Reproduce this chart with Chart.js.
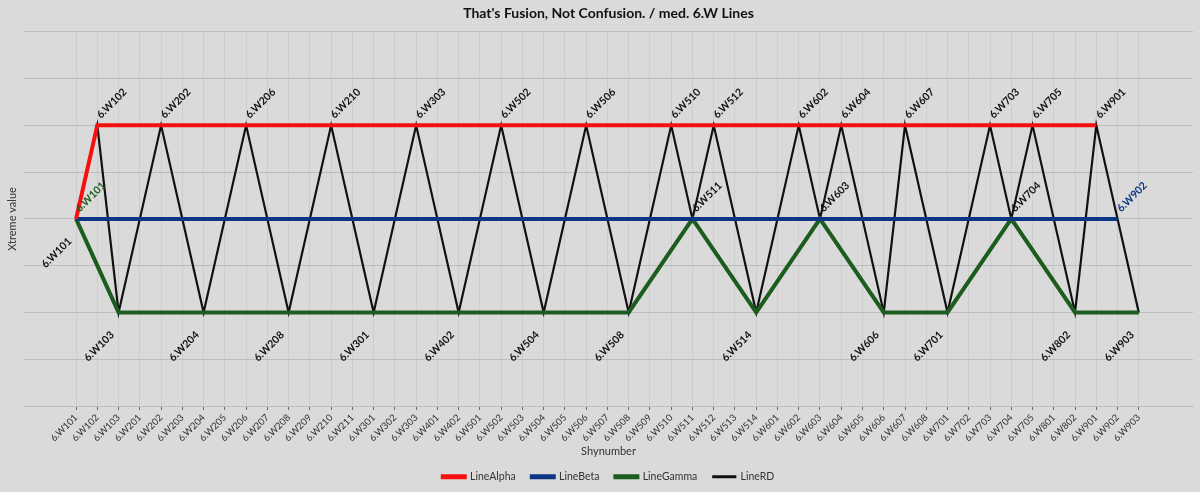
<!DOCTYPE html>
<html>
<head>
<meta charset="utf-8">
<script src="https://cdn.jsdelivr.net/npm/chart.js@4.4.1/dist/chart.umd.min.js"></script>
<style>
  html, body { margin: 0; padding: 0; background: #dadada; }
  #wrap { width: 1200px; height: 492px; }
</style>
</head>
<body>
<div id="wrap"><canvas id="chart"></canvas></div>
<script>
const shynumbers = [
  '6.W101', '6.W102', '6.W103',
  '6.W201', '6.W202', '6.W203', '6.W204', '6.W205', '6.W206', '6.W207', '6.W208', '6.W209', '6.W210', '6.W211',
  '6.W301', '6.W302', '6.W303',
  '6.W401', '6.W402',
  '6.W501', '6.W502', '6.W503', '6.W504', '6.W505', '6.W506', '6.W507', '6.W508', '6.W509', '6.W510', '6.W511', '6.W512', '6.W513', '6.W514',
  '6.W601', '6.W602', '6.W603', '6.W604', '6.W605', '6.W606', '6.W607', '6.W608',
  '6.W701', '6.W702', '6.W703', '6.W704', '6.W705',
  '6.W801', '6.W802',
  '6.W901', '6.W902', '6.W903'
];

const lineAlpha = [
  0, 1, 1,
  1, 1, 1, 1, 1, 1, 1, 1, 1, 1, 1,
  1, 1, 1,
  1, 1,
  1, 1, 1, 1, 1, 1, 1, 1, 1, 1, 1, 1, 1, 1,
  1, 1, 1, 1, 1, 1, 1, 1,
  1, 1, 1, 1, 1,
  1, 1,
  1, null, null
];

const lineBeta = [
  0, 0, 0,
  0, 0, 0, 0, 0, 0, 0, 0, 0, 0, 0,
  0, 0, 0,
  0, 0,
  0, 0, 0, 0, 0, 0, 0, 0, 0, 0, 0, 0, 0, 0,
  0, 0, 0, 0, 0, 0, 0, 0,
  0, 0, 0, 0, 0,
  0, 0,
  0, 0, null
];

const lineGamma = [
  0, null, -1,
  -1, -1, -1, -1, -1, -1, -1, -1, -1, -1, -1,
  -1, -1, -1,
  -1, -1,
  -1, -1, -1, -1, -1, -1, -1, -1, null, null, 0, null, null, -1,
  null, null, 0, null, null, -1, -1, -1,
  -1, null, null, 0, null,
  null, -1,
  -1, -1, -1
];

const lineRD = [
  0, 1, -1,
  null, 1, null, -1, null, 1, null, -1, null, 1, null,
  -1, null, 1,
  null, -1,
  null, 1, null, -1, null, 1, null, -1, null, 1, 0, 1, null, -1,
  null, 1, 0, 1, null, -1, 1, null,
  -1, null, 1, 0, 1,
  null, -1,
  1, null, -1
];

const yMin = -2;
const yMax = 2;
const yStep = 0.5;

Chart.defaults.font.family = 'Lato, "Noto Sans", sans-serif';
Chart.defaults.color = '#333';

const toPoints = values => values.map((v, i) => ({ x: i, y: v }));

const background = {
  id: 'background',
  beforeDraw(chart) {
    const { ctx, width, height } = chart;
    ctx.save();
    ctx.fillStyle = '#dadada';
    ctx.fillRect(0, 0, width, height);
    ctx.restore();
  }
};

// rotated point labels, above the point or under it
const pointLabels = {
  id: 'pointLabels',
  afterDatasetsDraw(chart) {
    const ctx = chart.ctx;
    chart.data.datasets.forEach((ds, di) => {
      if (!ds.labelMode) return;
      const meta = chart.getDatasetMeta(di);
      const idx = [];
      ds.data.forEach((p, i) => { if (p.y !== null) idx.push(i); });
      let pick = idx;
      if (ds.labelMode === 'first') pick = [idx[0]];
      if (ds.labelMode === 'last') pick = [idx[idx.length - 1]];

      ctx.save();
      ctx.font = 'bold 10.5px Lato, "Noto Sans", sans-serif';
      ctx.fillStyle = ds.labelColor;
      pick.forEach(i => {
        const el = meta.data[i];
        const v = ds.data[i].y;
        // the opening RD label sits under its point too
        const below = v < 0 || (i === 0 && ds.labelMode === 'all');
        ctx.save();
        if (below) {
          ctx.translate(el.x - 10, el.y + 17);
          ctx.rotate(-Math.PI / 4);
          ctx.textAlign = 'right';
          ctx.textBaseline = 'top';
        } else {
          ctx.translate(el.x + 5, el.y - 5);
          ctx.rotate(-Math.PI / 4);
          ctx.textAlign = 'left';
          ctx.textBaseline = 'bottom';
        }
        ctx.fillText(shynumbers[i], 0, 0);
        ctx.restore();
      });
      ctx.restore();
    });
  }
};

const yTitle = {
  id: 'yTitle',
  afterDraw(chart) {
    const { ctx, chartArea } = chart;
    ctx.save();
    ctx.translate(12, (chartArea.top + chartArea.bottom) / 2);
    ctx.rotate(-Math.PI / 2);
    ctx.textAlign = 'center';
    ctx.textBaseline = 'middle';
    ctx.font = '11px Lato, "Noto Sans", sans-serif';
    ctx.fillStyle = '#333';
    ctx.fillText('Xtreme value', 0, 0);
    ctx.restore();
  }
};

new Chart(document.getElementById('chart'), {
  type: 'line',
  data: {
    datasets: [
      {
        label: 'LineAlpha',
        data: toPoints(lineAlpha),
        borderColor: '#f70f0f',
        backgroundColor: '#f70f0f',
        borderWidth: 4
      },
      {
        label: 'LineBeta',
        data: toPoints(lineBeta),
        borderColor: '#0c3585',
        backgroundColor: '#0c3585',
        borderWidth: 4,
        labelMode: 'last',
        labelColor: '#0c3585'
      },
      {
        label: 'LineGamma',
        data: toPoints(lineGamma),
        borderColor: '#1d5c1f',
        backgroundColor: '#1d5c1f',
        borderWidth: 4,
        labelMode: 'first',
        labelColor: '#1d5c1f'
      },
      {
        label: 'LineRD',
        data: toPoints(lineRD),
        borderColor: '#111111',
        backgroundColor: '#111111',
        borderWidth: 2.2,
        labelMode: 'all',
        labelColor: '#111111'
      }
    ]
  },
  options: {
    responsive: true,
    maintainAspectRatio: false,
    animation: false,
    spanGaps: true,
    elements: {
      point: { radius: 0, hoverRadius: 0 },
      line: { tension: 0, borderCapStyle: 'butt', borderJoinStyle: 'miter' }
    },
    layout: { padding: { left: 24, right: 7, top: 0, bottom: 0 } },
    scales: {
      x: {
        type: 'linear',
        min: -2.45,
        max: 52.55,
        afterBuildTicks: s => { s.ticks = shynumbers.map((_, i) => ({ value: i })); },
        afterFit: s => { s.height = 49.5; },
        ticks: {
          autoSkip: false,
          minRotation: 45,
          maxRotation: 45,
          padding: 2,
          font: { size: 9.5 },
          color: '#333',
          callback: v => shynumbers[v]
        },
        grid: { color: '#cdcdcd', tickColor: '#6a6a6a', tickLength: 4 },
        border: { display: true, color: '#bdbdbd' },
        title: {
          display: true,
          text: 'Shynumber',
          font: { size: 11 },
          color: '#333',
          padding: { top: 0, bottom: -3 }
        }
      },
      y: {
        min: yMin,
        max: yMax,
        ticks: { display: false, stepSize: yStep },
        grid: { color: '#bdbdbd', drawTicks: false },
        border: { display: false }
      }
    },
    plugins: {
      title: {
        display: true,
        text: "That's Fusion, Not Confusion. / med. 6.W Lines",
        font: { size: 14, weight: 'bold' },
        color: '#111',
        padding: { top: 5, bottom: 10 }
      },
      legend: {
        position: 'bottom',
        labels: { boxWidth: 22, boxHeight: 1, padding: 16, font: { size: 10.5 }, color: '#333' }
      },
      tooltip: { enabled: false }
    }
  },
  plugins: [background, pointLabels, yTitle]
});
</script>
</body>
</html>
